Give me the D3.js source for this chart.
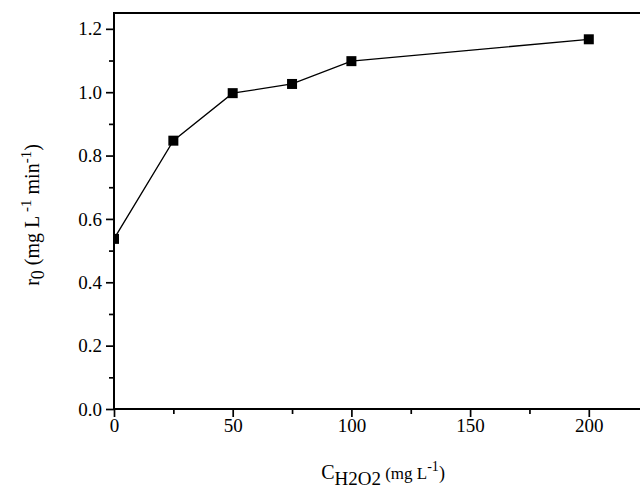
<!DOCTYPE html>
<html>
<head>
<meta charset="utf-8">
<script src="https://cdn.jsdelivr.net/npm/d3@7"></script>
<style>
  body { margin: 0; background: #fff; }
  text { font-family: "Liberation Serif", "Times New Roman", serif; }
</style>
</head>
<body>
<script>
// H2O2 concentration (mg/L) vs initial rate r0 (mg/L/min)
const conc = [0, 25, 50, 75, 100, 200];
const rate = [0.537, 0.847, 0.997, 1.026, 1.098, 1.167];
const xTicks = [0, 50, 100, 150, 200];
const yTicks = [0, 0.2, 0.4, 0.6, 0.8, 1.0, 1.2];

const width = 640, height = 489;
const margin = {top: 13, left: 114, bottom: 80};
const serif = "Liberation Serif";

const x = d3.scaleLinear().domain([0, 240]).range([margin.left, margin.left + 240 * 118.7 / 50]);
const y = d3.scaleLinear().domain([0, 1.25]).range([height - margin.bottom, margin.top]);

const svg = d3.select("body").append("svg")
    .attr("width", width)
    .attr("height", height)
    .attr("viewBox", [0, 0, width, height]);

svg.append("defs").append("clipPath")
    .attr("id", "plot")
  .append("rect")
    .attr("x", x(0))
    .attr("y", y(1.25))
    .attr("width", x(240) - x(0))
    .attr("height", y(0) - y(1.25));

// minor ticks
svg.append("g")
    .attr("transform", `translate(0,${y(0)})`)
    .call(d3.axisBottom(x).tickValues([25, 75, 125, 175, 225]).tickSize(5).tickFormat(""))
    .call(g => g.select(".domain").remove())
    .call(g => g.selectAll("line").attr("stroke-width", 1.7));

svg.append("g")
    .attr("transform", `translate(${x(0)},0)`)
    .call(d3.axisLeft(y).tickValues([0.1, 0.3, 0.5, 0.7, 0.9, 1.1]).tickSize(5).tickFormat(""))
    .call(g => g.select(".domain").remove())
    .call(g => g.selectAll("line").attr("stroke-width", 1.7));

// major ticks
svg.append("g")
    .attr("transform", `translate(0,${y(0)})`)
    .call(d3.axisBottom(x).tickValues(xTicks).tickSize(8).tickPadding(2).tickFormat(d3.format("d")))
    .call(g => g.attr("font-family", serif).attr("font-size", 19))
    .call(g => g.select(".domain").remove())
    .call(g => g.selectAll("line").attr("stroke-width", 1.7))
    .call(g => g.selectAll("text").attr("fill", "#000"));

svg.append("g")
    .attr("transform", `translate(${x(0)},0)`)
    .call(d3.axisLeft(y).tickValues(yTicks).tickSize(8).tickPadding(4).tickFormat(d3.format(".1f")))
    .call(g => g.attr("font-family", serif).attr("font-size", 19))
    .call(g => g.select(".domain").remove())
    .call(g => g.selectAll("line").attr("stroke-width", 1.7))
    .call(g => g.selectAll("text").attr("fill", "#000"));

// frame
svg.append("rect")
    .attr("x", x(0))
    .attr("y", y(1.25))
    .attr("width", x(240) - x(0))
    .attr("height", y(0) - y(1.25))
    .attr("fill", "none")
    .attr("stroke", "#000")
    .attr("stroke-width", 2);

const data = conc.map((c, i) => [c, rate[i]]);
const g = svg.append("g").attr("clip-path", "url(#plot)");

g.append("path")
    .datum(data)
    .attr("fill", "none")
    .attr("stroke", "#000")
    .attr("stroke-width", 1.3)
    .attr("d", d3.line().x(d => x(d[0])).y(d => y(d[1])));

g.selectAll("rect.pt")
  .data(data)
  .join("rect")
    .attr("class", "pt")
    .attr("x", d => x(d[0]) - 5)
    .attr("y", d => y(d[1]) - 5)
    .attr("width", 10)
    .attr("height", 10)
    .attr("fill", "#000");

// axis titles
const xt = svg.append("text")
    .attr("x", 383)
    .attr("y", 479)
    .attr("text-anchor", "middle")
    .attr("font-family", serif)
    .attr("font-size", 20);
xt.append("tspan").text("C");
xt.append("tspan").attr("dy", 6).attr("font-size", 19).text("H2O2");
xt.append("tspan").attr("dy", -6).attr("font-size", 17).text(" (mg L");
xt.append("tspan").attr("dy", -8).attr("font-size", 14).text("-1");
xt.append("tspan").attr("dy", 8).attr("font-size", 18).text(")");

const yt = svg.append("text")
    .attr("transform", `translate(39,215) rotate(-90)`)
    .attr("text-anchor", "middle")
    .attr("font-family", serif)
    .attr("font-size", 20);
yt.append("tspan").text("r");
yt.append("tspan").attr("dy", 5).attr("font-size", 18).text("0");
yt.append("tspan").attr("dy", -5).attr("font-size", 20).text(" (mg L");
yt.append("tspan").attr("dy", -8).attr("font-size", 15).text(" -1");
yt.append("tspan").attr("dy", 8).attr("font-size", 20).text(" min");
yt.append("tspan").attr("dy", -8).attr("font-size", 15).text("-1");
yt.append("tspan").attr("dy", 8).attr("font-size", 20).text(")");
</script>
</body>
</html>
